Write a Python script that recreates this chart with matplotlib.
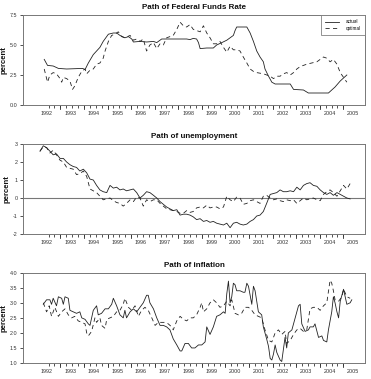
import matplotlib
matplotlib.use("Agg")
import matplotlib.pyplot as plt
import numpy as np

plt.rcParams['font.family'] = ['Liberation Sans', 'DejaVu Sans']

# ---------------- data ----------------
ff_act_t = [1991.90, 1992.04, 1992.28, 1992.50, 1992.85, 1993.53, 1993.63, 1993.77, 1993.98, 1994.26,
            1994.40, 1994.62, 1994.83, 1994.97, 1995.11, 1995.32, 1995.47, 1995.61, 1995.68, 1995.96,
            1996.24, 1996.53, 1996.67, 1996.88, 1997.94, 1998.08, 1998.22, 1998.36, 1998.44, 1998.51,
            1998.79, 1999.07, 1999.21, 1999.43, 1999.64, 1999.92, 1999.99, 2000.06, 2000.49, 2000.63,
            2000.77, 2000.91, 2001.05, 2001.19, 2001.26, 2001.41, 2001.55, 2001.69, 2002.33, 2002.47,
            2002.89, 2003.10, 2003.95, 2004.23, 2004.45, 2004.73]
ff_act_v = [3.8, 3.3, 3.25, 3.05, 3.0, 3.05, 2.95, 3.5, 4.2, 4.8,
            5.3, 5.9, 6.0, 6.0, 5.8, 5.6, 5.7, 5.5, 5.25, 5.3,
            5.25, 5.3, 5.2, 5.5, 5.5, 5.45, 5.55, 5.5, 5.2, 4.7,
            4.75, 4.75, 5.0, 5.2, 5.4, 5.8, 6.2, 6.5, 6.5, 6.0,
            5.3, 4.5, 4.0, 3.6, 3.0, 2.4, 1.9, 1.75, 1.75, 1.3,
            1.25, 1.0, 1.0, 1.5, 2.0, 2.5]

ff_opt_t = [1991.90, 1992.04, 1992.14, 1992.28, 1992.42, 1992.57, 1992.64, 1992.71, 1992.85, 1992.99,
            1993.10, 1993.20, 1993.34, 1993.49, 1993.63, 1993.70, 1993.84, 1993.98, 1994.12, 1994.26,
            1994.40, 1994.48, 1994.62, 1994.76, 1994.90, 1995.04, 1995.18, 1995.32, 1995.54, 1995.68,
            1995.82, 1995.96, 1996.10, 1996.24, 1996.38, 1996.53, 1996.67, 1996.81, 1996.95, 1997.09,
            1997.37, 1997.52, 1997.66, 1997.80, 1997.94, 1998.08, 1998.22, 1998.51, 1998.65, 1998.79,
            1998.93, 1999.07, 1999.21, 1999.35, 1999.50, 1999.64, 1999.78, 1999.92, 2000.06, 2000.20,
            2000.34, 2000.49, 2000.63, 2000.77, 2000.91, 2001.19, 2001.48, 2001.62, 2001.76, 2001.90,
            2002.04, 2002.18, 2002.33, 2002.47, 2002.61, 2002.75, 2002.89, 2003.03, 2003.24, 2003.46,
            2003.60, 2003.74, 2003.88, 2004.02, 2004.16, 2004.31, 2004.45, 2004.59, 2004.73]
ff_opt_v = [3.0, 1.9, 2.5, 2.7, 2.6, 2.2, 1.9, 2.3, 2.2, 2.0,
            1.3, 1.6, 2.3, 2.8, 3.0, 2.6, 2.9, 3.0, 3.4, 3.5,
            3.9, 4.5, 5.3, 5.8, 5.9, 6.1, 5.7, 5.6, 5.8, 5.4,
            5.5, 5.3, 5.5, 4.5, 5.0, 5.2, 4.7, 5.1, 5.0, 5.6,
            5.8, 6.3, 6.9, 6.6, 6.5, 6.7, 6.3, 6.1, 6.6, 6.0,
            5.6, 5.1, 5.1, 5.3, 4.8, 4.4, 4.9, 4.6, 4.6, 4.5,
            4.0, 3.5, 3.0, 2.8, 2.7, 2.6, 2.4, 2.2, 2.4, 2.4,
            2.6, 2.7, 2.5, 2.7, 3.0, 3.2, 3.3, 3.4, 3.5, 3.6,
            3.8, 4.0, 3.9, 3.6, 3.8, 3.4, 2.7, 2.3, 1.9]

un_t = [1991.72, 1991.86, 1992.00, 1992.14, 1992.28, 1992.42, 1992.57, 1992.71, 1992.85, 1992.99,
        1993.13, 1993.27, 1993.41, 1993.56, 1993.70, 1993.84, 1993.98, 1994.12, 1994.26, 1994.40,
        1994.55, 1994.69, 1994.83, 1994.97, 1995.11, 1995.25, 1995.39, 1995.54, 1995.68, 1995.82,
        1995.96, 1996.10, 1996.24, 1996.38, 1996.53, 1996.67, 1996.81, 1996.95, 1997.09, 1997.23,
        1997.37, 1997.52, 1997.66, 1997.80, 1997.94, 1998.08, 1998.22, 1998.36, 1998.51, 1998.65,
        1998.79, 1998.93, 1999.07, 1999.21, 1999.35, 1999.50, 1999.64, 1999.78, 1999.92, 2000.06,
        2000.20, 2000.34, 2000.49, 2000.63, 2000.77, 2000.91, 2001.05, 2001.19, 2001.33, 2001.48,
        2001.62, 2001.76, 2001.90, 2002.04, 2002.18, 2002.33, 2002.47, 2002.61, 2002.75, 2002.89,
        2003.03, 2003.17, 2003.31, 2003.46, 2003.60, 2003.74, 2003.88, 2004.02, 2004.16, 2004.31,
        2004.45, 2004.59, 2004.73, 2004.87]
un_act = [2.6, 2.9, 2.8, 2.6, 2.4, 2.45, 2.2, 2.2, 2.0, 1.85,
          1.75, 1.7, 1.5, 1.6, 1.4, 1.05, 1.0, 0.7, 0.45, 0.35,
          0.3, 0.7, 0.55, 0.6, 0.45, 0.5, 0.4, 0.45, 0.5, 0.3,
          0.0, 0.15, 0.35, 0.3, 0.15, 0.0, -0.2, -0.35, -0.5, -0.6,
          -0.7, -0.65, -0.95, -0.9, -0.9, -0.95, -1.05, -1.2, -1.15, -1.3,
          -1.25, -1.35, -1.3, -1.4, -1.45, -1.5, -1.4, -1.65, -1.4, -1.35,
          -1.45, -1.5, -1.45, -1.3, -1.2, -1.0, -0.95, -0.75, -0.3, 0.2,
          0.25, 0.3, 0.45, 0.35, 0.35, 0.4, 0.35, 0.6, 0.45, 0.7,
          0.8, 0.85, 0.7, 0.65, 0.45, 0.3, 0.2, 0.3, 0.15, 0.3,
          0.2, 0.1, 0.0, -0.05]
un_opt = [2.6, 2.85, 2.8, 2.5, 2.65, 2.4, 2.1, 2.0, 1.7, 1.65,
          1.6, 1.3, 1.35, 1.5, 1.2, 0.5, 0.4, 0.3, 0.1, -0.1,
          -0.05, 0.0, -0.15, -0.25, -0.3, -0.45, -0.3, -0.1, -0.2, 0.05,
          0.0, -0.45, -0.1, -0.2, -0.1, -0.1, -0.3, -0.45, -0.6, -0.65,
          -0.7, -0.75, -0.85, -0.85, -0.7, -0.8, -0.75, -0.55, -0.5, -0.55,
          -0.4, -0.55, -0.5, -0.5, -0.6, -0.5, 0.1, -0.1, -0.2, 0.05,
          0.0, -0.35, -0.3, -0.15, -0.1, -0.2, -0.3, 0.1, 0.15, 0.0,
          -0.1, -0.05, -0.15, -0.2, -0.1, -0.15, -0.1, -0.3, -0.15, 0.0,
          -0.1, -0.05, 0.0, -0.1, -0.15, 0.2, 0.35, 0.45, 0.3, 0.1,
          0.4, 0.7, 0.5, 0.8]

inf_act_t = [1991.86, 1992.00, 1992.14, 1992.21, 1992.28, 1992.42, 1992.50, 1992.64, 1992.71, 1992.78,
             1992.92, 1992.99, 1993.13, 1993.27, 1993.41, 1993.49, 1993.63, 1993.77, 1993.84, 1993.98,
             1994.12, 1994.19, 1994.33, 1994.48, 1994.62, 1994.76, 1994.83, 1994.97, 1995.11, 1995.25,
             1995.32, 1995.39, 1995.54, 1995.68, 1995.82, 1995.96, 1996.10, 1996.24, 1996.31, 1996.38,
             1996.53, 1996.67, 1996.81, 1996.95, 1997.09, 1997.23, 1997.37, 1997.52, 1997.66, 1997.73,
             1997.87, 1998.01, 1998.15, 1998.29, 1998.44, 1998.58, 1998.72, 1998.79, 1998.93, 1999.07,
             1999.21, 1999.35, 1999.50, 1999.57, 1999.64, 1999.71, 1999.78, 1999.85, 1999.92, 1999.99,
             2000.06, 2000.20, 2000.34, 2000.41, 2000.49, 2000.56, 2000.70, 2000.77, 2000.84, 2000.98,
             2001.12, 2001.19, 2001.33, 2001.41, 2001.48, 2001.55, 2001.62, 2001.69, 2001.76, 2001.90,
             2001.97, 2002.11, 2002.18, 2002.25, 2002.40, 2002.54, 2002.68, 2002.75, 2002.82, 2002.96,
             2003.10, 2003.17, 2003.31, 2003.38, 2003.53, 2003.67, 2003.74, 2003.88, 2003.95, 2004.09,
             2004.16, 2004.23, 2004.31, 2004.38, 2004.45, 2004.59, 2004.66, 2004.73, 2004.87, 2004.94]
inf_act_v = [2.95, 3.1, 3.1, 2.95, 3.15, 2.9, 3.2, 3.15, 2.95, 3.2,
             3.15, 2.75, 2.7, 2.65, 2.7, 2.5, 2.45, 2.3, 2.25, 2.75,
             2.9, 2.6, 2.65, 2.8, 2.8, 2.95, 3.15, 2.9, 2.6, 2.5,
             2.75, 2.5, 2.7, 2.8, 2.7, 2.85, 3.0, 3.25, 3.25, 3.0,
             2.8, 2.5, 2.25, 2.25, 2.2, 2.1, 1.8, 1.6, 1.4, 1.4,
             1.65, 1.65, 1.5, 1.5, 1.6, 1.6, 1.7, 2.2, 1.95, 2.2,
             2.55, 2.6, 2.7, 2.65, 3.3, 3.72, 3.0, 3.2, 3.65, 3.6,
             3.4, 3.4, 3.35, 3.35, 3.65, 3.55, 2.95, 3.55, 3.4, 2.7,
             2.6, 2.2, 1.8, 1.55, 1.15, 1.1, 1.3, 1.6, 1.35, 1.1,
             1.05, 1.85, 1.5, 2.0, 2.1, 2.5, 2.9, 2.95, 2.3, 2.05,
             2.1, 2.2, 2.2, 2.3, 1.85, 1.9, 1.75, 1.7, 2.1, 2.7,
             3.2, 3.0, 2.7, 2.5, 3.05, 3.45, 3.2, 2.95, 3.0, 3.1]

inf_opt_t = [1991.86, 1992.00, 1992.11, 1992.21, 1992.35, 1992.50, 1992.64, 1992.78, 1992.92, 1993.06,
             1993.20, 1993.34, 1993.49, 1993.63, 1993.70, 1993.77, 1993.91, 1994.05, 1994.12, 1994.26,
             1994.33, 1994.48, 1994.55, 1994.69, 1994.83, 1994.97, 1995.11, 1995.25, 1995.32, 1995.47,
             1995.61, 1995.75, 1995.89, 1996.03, 1996.17, 1996.31, 1996.46, 1996.60, 1996.74, 1996.88,
             1997.02, 1997.16, 1997.30, 1997.37, 1997.52, 1997.66, 1997.80, 1997.94, 1998.08, 1998.22,
             1998.36, 1998.51, 1998.58, 1998.65, 1998.79, 1998.93, 1999.07, 1999.21, 1999.35, 1999.50,
             1999.64, 1999.78, 1999.85, 1999.99, 2000.13, 2000.27, 2000.41, 2000.56, 2000.70, 2000.84,
             2000.98, 2001.12, 2001.26, 2001.41, 2001.55, 2001.69, 2001.83, 2001.97, 2002.11, 2002.18,
             2002.33, 2002.47, 2002.61, 2002.75, 2002.89, 2003.03, 2003.17, 2003.31, 2003.46, 2003.60,
             2003.74, 2003.88, 2004.02, 2004.09, 2004.16, 2004.23, 2004.38, 2004.52, 2004.59, 2004.73,
             2004.87]
inf_opt_v = [3.0, 2.7, 2.9, 2.55, 2.85, 2.55, 2.7, 2.8, 2.6, 2.5,
             2.55, 2.4, 2.35, 2.3, 2.0, 1.9, 2.05, 2.5, 2.35, 2.5,
             2.25, 2.15, 2.45, 2.5, 2.55, 2.7, 2.75, 2.95, 3.15, 2.85,
             2.75, 2.9, 2.55, 2.75, 2.85, 2.75, 2.5, 2.25, 2.35, 2.35,
             2.35, 2.3, 2.2, 2.1, 2.4, 2.55, 2.45, 2.4, 2.5, 2.5,
             2.6, 2.85, 3.0, 2.7, 2.8, 3.0, 3.1, 3.0, 2.85, 2.9,
             3.05, 2.9, 3.1, 2.65, 2.6, 2.65, 2.85, 2.85, 2.75, 2.6,
             2.55, 2.5, 2.1, 1.75, 1.7, 2.0, 2.1, 1.95, 2.05, 1.65,
             1.75, 1.95, 2.1, 2.15, 2.05, 2.1, 2.8, 2.85, 2.85, 2.75,
             2.9, 3.0, 3.75, 3.65, 3.4, 3.1, 3.05, 3.2, 3.45, 3.2,
             3.15]

year_labels = list(range(1992, 2006))
titles = ["Path of Federal Funds Rate", "Path of unemployment", "Path of inflation"]
yticks_list = [[0.0, 2.5, 5.0, 7.5], [-2, -1, 0, 1, 2, 3], [1.0, 1.5, 2.0, 2.5, 3.0, 3.5, 4.0]]
yfmt = ["{:.1f}", "{:d}", "{:.1f}"]
ylims = [(0.0, 7.5), (-2, 3), (1.0, 4.0)]

# ---------------- figure ----------------
W, H = 371, 379
fig = plt.figure(figsize=(W / 100, H / 100), dpi=100)
LC = "#222222"
SC = "#777777"
lw = 0.6
dash = (0, (5, 4))

def px_axes(left, top, right, bottom):
    return fig.add_axes([left / W, 1 - bottom / H, (right - left) / W, (bottom - top) / H])

boxes = [(23, 15, 365, 105), (23, 144, 365, 234), (23, 272.7, 365, 363)]
axes = [px_axes(*b) for b in boxes]

series = [
    ((ff_act_t, ff_act_v), (ff_opt_t, ff_opt_v)),
    ((un_t, un_act), (un_t, un_opt)),
    ((inf_act_t, inf_act_v), (inf_opt_t, inf_opt_v)),
]

quarter_ticks = [1992 + 1 / 12 + 0.25 * k for k in range(51)]
long_ticks = [t for k, t in enumerate(quarter_ticks) if k % 4 == 2]

for i, ax in enumerate(axes):
    (ta, va), (to, vo) = series[i]
    ax.plot(ta, va, color=LC, lw=lw, label="actual")
    ax.plot(to, vo, color=LC, lw=lw, linestyle=dash, label="optimal")
    if i == 1:
        ax.axhline(0, color=SC, lw=0.8, zorder=0)
    ax.set_xlim(1991.0, 2005.5)
    ax.set_ylim(*ylims[i])
    ax.set_yticks(yticks_list[i])
    ax.set_yticklabels([yfmt[i].format(v) for v in yticks_list[i]])
    ax.set_xticks(year_labels)
    ax.set_xticklabels([str(y) for y in year_labels])
    ax.tick_params(axis='x', which='major', length=0, pad=4.5, labelsize=3.9, colors="#333333")
    ax.set_xticks(quarter_ticks, minor=True)
    ax.tick_params(axis='x', which='minor', length=2.0, width=0.6, color="#333333", direction='out')
    for t in long_ticks:
        ax.plot([t, t], [0, -0.045], transform=ax.get_xaxis_transform(), color="#333333",
                lw=0.6, clip_on=False)
    ax.tick_params(axis='y', length=2.5, width=0.6, color="#333333", pad=1.5, labelsize=3.9,
                   labelcolor="#333333")
    for s in ax.spines.values():
        s.set_color(SC)
        s.set_linewidth(0.7)
    ax.set_title(titles[i], fontsize=5.8, fontweight='bold', pad=4, color="#111111")
    ax.set_ylabel("percent", fontsize=5.6, fontweight='bold', labelpad=1.5, color="#111111")
    if i == 0:
        leg = ax.legend(loc='upper right', fontsize=3.3, frameon=True, fancybox=False,
                        borderaxespad=0, handlelength=3.0, borderpad=0.9, labelspacing=0.4,
                        handletextpad=1.5)
        leg.get_frame().set_edgecolor(SC)
        leg.get_frame().set_linewidth(0.7)

fig.savefig("out.png", dpi=100)
